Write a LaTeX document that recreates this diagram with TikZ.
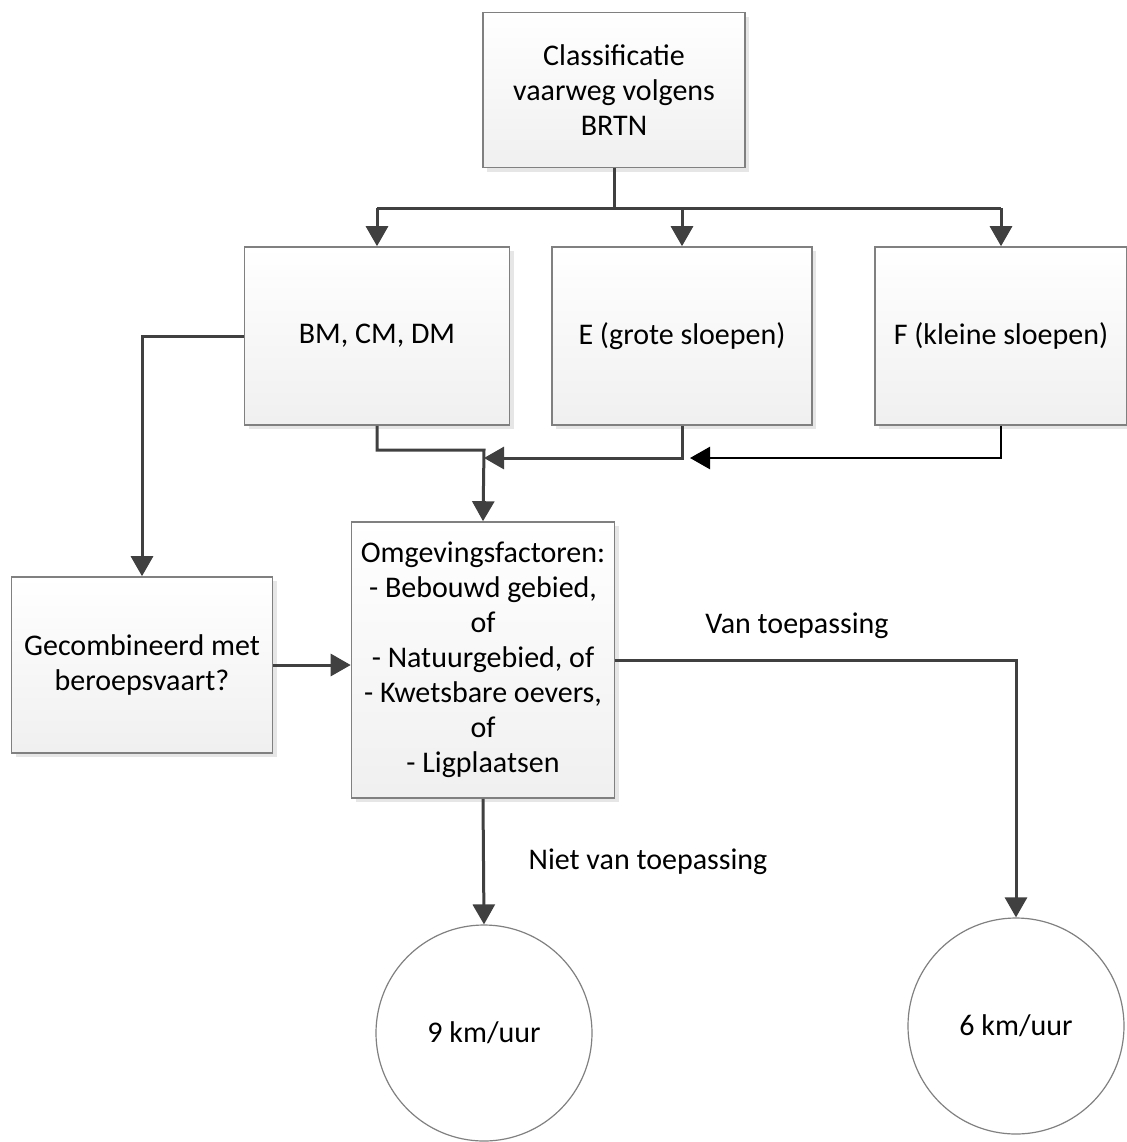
\documentclass[tikz,border=0pt]{standalone}
\usepackage{fontspec}
\setmainfont{Carlito}
\usetikzlibrary{arrows.meta,shadows}
\definecolor{lijn}{HTML}{404040}
\definecolor{rand}{HTML}{808080}
\tikzset{
	blok/.style={draw=rand, line width=0.8pt, top color=white, bottom color=black!6,
		drop shadow={shadow xshift=2pt, shadow yshift=-2pt, opacity=0.2},
		align=center, inner sep=2pt},
	rond/.style={circle, draw=rand, line width=0.6pt, fill=white, minimum size=108pt, inner sep=0pt},
	pijl/.style={draw=lijn, line width=1.5pt, -{Triangle[length=10pt,width=11pt]}},
	lijntje/.style={draw=lijn, line width=1.5pt},
	tekst/.style={font=\fontsize{15}{17.5}\selectfont}
}

\begin{document}
\begin{tikzpicture}[x=0.5pt, y=-0.5pt, tekst]
			%%%%% START %%%%%
			\useasboundingbox (0, 0) rectangle (1127, 1142);
			
			\node[blok, minimum width=131pt, minimum height=77.5pt] (classif) at (614, 90) {Classificatie\\vaarweg volgens\\BRTN};
			
			\node[blok, minimum width=132.5pt, minimum height=89pt] (bmcmdm) at (377, 336) {BM, CM, DM};
			\node[blok, minimum width=130pt, minimum height=89pt] (egrote) at (682, 336) {E (grote sloepen)};
			\node[blok, minimum width=126pt, minimum height=89pt] (fkleine) at (1001, 336) {F (kleine sloepen)};
			
			\node[blok, minimum width=130.5pt, minimum height=88pt] (gecomb) at (142, 665) {Gecombineerd met\\beroepsvaart?};
			\node[blok, minimum width=131.5pt, minimum height=138pt] (omgev) at (483, 660) {Omgevingsfactoren:\\- Bebouwd gebied,\\of\\- Natuurgebied, of\\- Kwetsbare oevers,\\of\\- Ligplaatsen};
			
			\node[rond] (negen) at (484, 1033) {9 km/uur};
			\node[rond] (zes) at (1016, 1026) {6 km/uur};
			
			\coordinate (bus) at (614, 208);
			\coordinate (samen) at (484, 450);
			\coordinate (ein) at (484, 458);
			\coordinate (fin) at (690, 458);
			
			% verdeling naar de klassen
			\draw[lijntje] (classif.south) -- (bus);
			\draw[lijntje] (bmcmdm.north |- bus) -- (fkleine.north |- bus);
			\draw[pijl] (bmcmdm.north |- bus) -- (bmcmdm.north);
			\draw[pijl] (egrote.north |- bus) -- (egrote.north);
			\draw[pijl] (fkleine.north |- bus) -- (fkleine.north);
			
			% samenkomen bij de omgevingsfactoren
			\draw[pijl] (bmcmdm.south) |- (samen) -- (omgev.north);
			\draw[pijl] (egrote.south) |- (ein);
			\draw[pijl, draw=black, line width=1.3pt] (fkleine.south) |- (fin);
			
			\draw[pijl] (bmcmdm.west) -| (gecomb.north);
			\draw[pijl] (gecomb.east) -- (gecomb.east -| omgev.west);
			
			% uitkomsten
			\draw[pijl] (omgev.east) -| (zes.north);
			\draw[pijl] (omgev.south) -- (negen.north);
			\node (vantoep) at (797, 626) {Van toepassing};
			\node (niettoep) at (648, 862) {Niet van toepassing};
			
			%%%%% END %%%%%
		\end{tikzpicture}
\end{document}
